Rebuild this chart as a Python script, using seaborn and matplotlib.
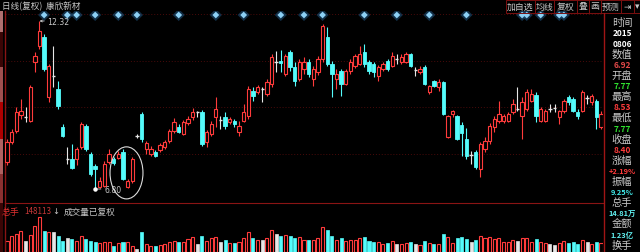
import numpy as np
import pandas as pd
import matplotlib
matplotlib.use("Agg")
import matplotlib.pyplot as plt
import seaborn as sns
from matplotlib.patches import Ellipse, Rectangle
from matplotlib.lines import Line2D

# ---------------- data ----------------
opens = [7.69, 8.34, 8.71, 9.23, 9.17, 9.03, 10.97, 11.50, 11.79, 9.82,
         10.51, 10.09, 8.84, 7.79, 7.79, 7.79, 8.18, 8.87, 7.95, 7.56,
         6.87, 6.90, 7.69, 7.79, 7.82, 8.02, 6.87, 7.06, 8.54, 9.26,
         8.11, 7.95, 8.02, 8.08, 8.18, 8.38, 8.71, 8.84, 8.61, 8.97,
         9.17, 9.33, 9.33, 8.34, 8.61, 9.17, 9.07, 9.17, 9.00, 9.03,
         8.67, 9.03, 9.20, 10.02, 9.99, 10.09, 9.92, 10.25, 10.97, 11.01,
         10.58, 11.30, 10.81, 10.41, 10.74, 10.97, 10.41, 10.64, 11.07, 11.79,
         10.91, 10.41, 10.68, 10.25, 10.68, 10.84, 10.91, 11.30, 10.97, 10.91,
         10.51, 10.74, 11.01, 10.84, 11.07, 10.97, 10.97, 11.24, 10.71, 10.64,
         10.81, 9.99, 10.35, 10.15, 10.32, 8.51, 9.26, 9.20, 8.90, 8.44,
         7.92, 8.02, 7.46, 8.11, 8.38, 8.84, 9.03, 9.03, 9.03, 9.33,
         9.43, 9.20, 9.43, 9.69, 9.89, 9.03, 9.03, 9.43, 9.46, 9.17,
         9.36, 9.82, 9.76, 9.33, 9.36, 9.79, 9.66, 9.69, 8.84]
highs = [8.44, 8.77, 9.49, 9.76, 9.49, 10.22, 11.30, 12.32, 11.89, 10.91,
         11.50, 10.35, 8.94, 8.18, 8.28, 8.18, 9.00, 8.94, 8.02, 7.62,
         7.19, 7.72, 8.11, 7.85, 8.05, 8.11, 7.13, 7.85, 8.61, 9.33,
         8.38, 8.21, 8.08, 8.31, 8.41, 8.77, 9.13, 8.94, 9.07, 9.20,
         9.46, 9.36, 9.40, 8.74, 9.03, 9.82, 9.20, 9.33, 9.17, 9.10,
         9.03, 9.59, 10.18, 10.15, 10.22, 10.15, 10.41, 11.24, 11.33, 11.37,
         11.24, 11.37, 10.97, 11.07, 11.14, 11.07, 10.84, 11.17, 12.22, 12.12,
         11.01, 10.74, 10.74, 10.74, 11.07, 11.24, 11.50, 11.56, 11.04, 10.97,
         10.87, 10.97, 11.07, 11.30, 11.24, 11.24, 11.30, 11.27, 10.81, 10.84,
         10.87, 10.22, 10.38, 10.41, 10.35, 9.23, 9.40, 9.23, 9.00, 8.80,
         8.05, 8.08, 8.34, 8.51, 8.97, 9.20, 9.69, 9.26, 9.33, 9.76,
         10.15, 9.82, 10.09, 10.09, 9.99, 9.49, 9.43, 9.59, 9.59, 9.40,
         9.76, 9.89, 9.82, 9.43, 10.05, 9.89, 9.92, 9.76, 9.36]
lows = [7.59, 8.28, 8.64, 9.10, 9.00, 9.00, 10.64, 11.40, 10.68, 9.66,
        10.15, 9.43, 8.51, 7.62, 7.46, 7.59, 8.11, 8.05, 7.23, 6.80,
        6.83, 6.87, 7.62, 7.59, 7.79, 7.10, 6.83, 7.00, 8.48, 8.34,
        7.95, 7.88, 7.85, 8.02, 8.11, 8.31, 8.64, 8.64, 8.57, 8.90,
        9.07, 9.17, 8.21, 8.18, 8.54, 8.84, 8.77, 8.77, 8.94, 8.84,
        8.54, 9.00, 9.10, 9.69, 9.92, 9.66, 9.86, 10.15, 10.64, 10.64,
        10.51, 10.68, 10.18, 10.35, 10.58, 10.48, 10.18, 10.55, 10.97, 10.84,
        9.82, 10.09, 9.86, 10.22, 10.58, 10.78, 10.87, 10.81, 10.58, 10.48,
        10.35, 10.68, 10.68, 10.81, 10.91, 10.91, 10.94, 10.81, 10.51, 10.58,
        10.22, 9.92, 10.15, 10.02, 9.23, 8.48, 9.17, 8.41, 7.88, 7.79,
        7.62, 7.46, 7.19, 8.02, 8.28, 8.67, 8.97, 8.97, 9.00, 9.26,
        9.36, 8.44, 9.36, 9.66, 9.00, 9.00, 9.00, 9.33, 9.33, 8.94,
        9.30, 9.56, 9.33, 9.10, 9.33, 9.59, 9.56, 8.77, 8.77]
closes = [8.34, 8.67, 9.33, 9.36, 9.17, 10.15, 11.17, 11.99, 10.74, 10.84,
          10.51, 9.53, 8.54, 7.79, 7.49, 8.11, 8.94, 8.11, 7.29, 7.46,
          7.06, 7.62, 7.95, 7.65, 7.95, 7.13, 7.06, 7.79, 8.54, 8.44,
          8.31, 8.11, 7.88, 8.25, 8.34, 8.71, 9.00, 8.67, 9.00, 9.10,
          9.33, 9.33, 8.28, 8.67, 8.94, 9.43, 9.07, 8.87, 9.10, 8.94,
          8.87, 9.33, 10.09, 9.86, 10.15, 10.09, 10.32, 11.14, 10.97, 10.94,
          11.17, 10.81, 10.35, 10.97, 10.97, 10.58, 10.74, 11.07, 12.16, 10.91,
          10.58, 10.58, 10.25, 10.68, 10.97, 11.17, 11.24, 10.91, 10.68, 10.64,
          10.81, 10.91, 10.74, 11.17, 11.07, 11.14, 11.24, 10.84, 10.71, 10.74,
          10.25, 10.18, 10.18, 10.32, 9.26, 9.20, 9.36, 8.44, 8.64, 7.88,
          7.92, 7.52, 8.28, 8.38, 8.87, 9.10, 9.26, 9.20, 9.26, 9.59,
          9.43, 9.66, 9.99, 9.92, 9.20, 9.43, 9.36, 9.43, 9.46, 9.36,
          9.69, 9.66, 9.36, 9.20, 9.99, 9.79, 9.86, 9.17, 9.26]
volumes = [46500, 67700, 76100, 88800, 46500, 71900, 110000, 148113, 88800, 84600,
           84600, 67700, 46500, 59200, 55000, 46500, 67700, 55000, 46500, 42300,
           38100, 42300, 42300, 25400, 38100, 42300, 42300, 25400, 12700, 84600,
           33800, 25400, 25400, 29600, 33800, 42300, 46500, 42300, 42300, 55000,
           63500, 33800, 67700, 46500, 59200, 63500, 42300, 50800, 38100, 38100,
           42300, 59200, 84600, 59200, 50800, 50800, 59200, 93100, 76100, 67700,
           71900, 67700, 59200, 63500, 50800, 50800, 50800, 59200, 105800, 93100,
           67700, 50800, 59200, 46500, 50800, 50800, 59200, 63500, 46500, 42300,
           42300, 33800, 38100, 46500, 33800, 33800, 38100, 42300, 33800, 29600,
           46500, 38100, 33800, 33800, 76100, 63500, 38100, 59200, 63500, 55000,
           42300, 50800, 67700, 59200, 63500, 55000, 59200, 42300, 42300, 50800,
           46500, 59200, 59200, 42300, 55000, 42300, 38100, 33800, 29600, 38100,
           46500, 38100, 42300, 33800, 50800, 42300, 33800, 42300, 38100]
event_idx = [8, 13, 15, 19, 24, 28, 37, 45, 51, 59, 64, 68, 77, 84, 91, 99,
             111, 112, 115, 119, 120]
title_text = "日线(复权)  康欣新材"
buttons = ["加自选", "均线", "复权", "叠", "画", "预测", "⇥", "▾"]
panel_fields = ["时间", "数值", "开盘", "最高", "最低", "收盘", "涨幅", "振幅", "总手", "金额", "换手"]
panel_values = [["2015", "0806"], ["6.92"], ["7.77"], ["8.53"], ["7.77"], ["8.40"],
                ["+2.19%"], ["9.25%"], ["14.81万"], ["1.23亿"], []]
vol_label = ["总手", "148113", "↓", "成交量已复权"]

# ---------------- style ----------------
RED = "#ff3b3b"
CYAN = "#54fcfc"
WHITE = "#e6e6e6"
GREEN = "#2ee02e"
GRAY = "#c8c8c8"
DARKRED = "#8a1414"

sns.set_theme(style="dark", rc={"axes.facecolor": "black", "figure.facecolor": "black",
                                 "savefig.facecolor": "black"})
plt.rcParams["font.family"] = ["Noto Sans CJK SC", "DejaVu Sans"]

W, H = 640, 253
fig = plt.figure(figsize=(W / 100, H / 100), dpi=100)


def box(x0, y0, x1, y1):
    return [x0 / W, 1 - y1 / H, (x1 - x0) / W, (y1 - y0) / H]


def fx(x):
    return x / W


def fy(y):
    return 1 - y / H


ax = fig.add_axes(box(5, 12, 603, 203))
vax = fig.add_axes(box(5, 204, 603, 253))

n = len(opens)
df = pd.DataFrame(dict(idx=np.arange(n), open=opens, high=highs, low=lows,
                       close=closes, vol=volumes))
df["dir"] = np.sign(np.round(df["close"] - df["open"], 4)).astype(int)
df["color"] = df["dir"].map({1: RED, -1: CYAN, 0: WHITE})

# wicks
ax.vlines(df["idx"], df["low"], df["high"], colors=df["color"], lw=0.8, zorder=2)
# bodies
bw = 0.72
up = df[df["dir"] == 1]
dn = df[df["dir"] == -1]
dj = df[df["dir"] == 0]
ax.bar(up["idx"], up["close"] - up["open"], bottom=up["open"], width=bw,
       facecolor="black", edgecolor=RED, lw=0.8, zorder=3)
ax.bar(dn["idx"], dn["open"] - dn["close"], bottom=dn["close"], width=bw,
       facecolor=CYAN, edgecolor=CYAN, lw=0.6, zorder=3)
ax.hlines(dj["close"], dj["idx"] - bw / 2, dj["idx"] + bw / 2, colors=WHITE, lw=1.0, zorder=3)

ax.set_xlim(-0.43, n - 1 + 0.43)
ylo, yhi = 6.373, 12.649
ax.set_ylim(ylo, yhi)
ax.set_xticks([])
ax.set_yticks([7.95, 9.48, 11.01, 12.55])
ax.tick_params(left=False, labelleft=False, bottom=False, labelbottom=False)
ax.grid(True, axis="y", color="#4a0a0a", ls=(0, (1, 2)), lw=0.7)
ax.grid(False, axis="x")
for s in ["top", "right", "bottom"]:
    ax.spines[s].set_visible(False)
ax.spines["left"].set_color(DARKRED)
ax.spines["left"].set_linewidth(1.0)

# event diamonds near top
ymark = yhi - 4 * (yhi - ylo) / 191
ev = pd.DataFrame(dict(idx=event_idx, y=[ymark] * len(event_idx)))
sns.scatterplot(data=ev, x="idx", y="y", ax=ax, marker="D", s=38, color="#1d4f78",
                edgecolor="none", alpha=0.6, legend=False, zorder=4)
sns.scatterplot(data=ev, x="idx", y="y", ax=ax, marker="D", s=12, color="#8cd0f5",
                edgecolor="none", legend=False, zorder=5)
ax.set_xlabel("")
ax.set_ylabel("")

# max / min annotations
imax = int(np.argmax(highs))
imin = int(np.argmin(lows))
ax.annotate(f"{highs[imax]:.2f}", xy=(imax, highs[imax]), xytext=(8, 0),
            textcoords="offset pixels", color=GRAY, fontsize=5.6, va="center", ha="left",
            family="DejaVu Sans",
            arrowprops=dict(arrowstyle="->,head_length=0.25,head_width=0.12", color=GRAY,
                            lw=0.6, shrinkA=0, shrinkB=0), zorder=6)
ax.annotate(f"{lows[imin]:.2f}", xy=(imin, lows[imin]), xytext=(9, 0),
            textcoords="offset pixels", color=GRAY, fontsize=5.6, va="center", ha="left",
            family="DejaVu Sans",
            arrowprops=dict(arrowstyle="-", color=GRAY, lw=0.6, shrinkA=0, shrinkB=0),
            zorder=6)
ax.plot([imin], [lows[imin]], "o", ms=2.2, color="white", zorder=6)

# ellipse highlight
ax.add_patch(Ellipse((25.75, 7.33), 7.1, 1.71, fill=False, edgecolor="#dcdcdc",
                     lw=0.8, clip_on=False, zorder=6))

# ---------------- volume ----------------
vup = df[df["dir"] == 1]
vdn = df[df["dir"] == -1]
vdj = df[df["dir"] == 0]
vw = 0.66
vax.bar(vup["idx"], vup["vol"], width=vw, facecolor="black", edgecolor=RED, lw=0.8)
vax.bar(vdn["idx"], vdn["vol"], width=vw, facecolor=CYAN, edgecolor=CYAN, lw=0.5)
vax.bar(vdj["idx"], vdj["vol"], width=vw, facecolor=WHITE, edgecolor=WHITE, lw=0.5)
vax.set_xlim(-0.43, n - 1 + 0.43)
vax.set_ylim(0, 207000)
vax.set_xticks([])
vax.set_yticks([])
vax.grid(False)
for s in ["right", "bottom"]:
    vax.spines[s].set_visible(False)
vax.spines["top"].set_color(DARKRED)
vax.spines["top"].set_linewidth(0.8)
vax.spines["left"].set_color(DARKRED)
vax.spines["left"].set_linewidth(1.0)

# volume header
fig.text(fx(2), fy(212), vol_label[0], color="#e03030", fontsize=6.4, va="center", ha="left")
fig.text(fx(24), fy(212), vol_label[1], color="#c83838", fontsize=5.8, va="center", ha="left")
fig.text(fx(52), fy(212), vol_label[2], color=GRAY, fontsize=6, va="center", ha="left",
         family=["DejaVu Sans"])
fig.text(fx(64), fy(212), vol_label[3], color=GRAY, fontsize=6.2, va="center", ha="left")

# ---------------- top bar ----------------
fig.text(fx(2), fy(6.5), title_text, color=GRAY, fontsize=6.2, va="center", ha="left")
btn_edges = [506, 535, 554, 577, 589, 601, 621, 634, 640]
for i, lab in enumerate(buttons):
    x0, x1 = btn_edges[i], btn_edges[i + 1]
    fig.patches.append(Rectangle((fx(x0), fy(14)), (x1 - x0) / W, 13 / H,
                                 transform=fig.transFigure, fill=False,
                                 edgecolor="#7a1010", lw=0.7))
    fig.text(fx((x0 + x1) / 2), fy(7), lab, color=GRAY, fontsize=6.4, va="center",
             ha="center", family=["Noto Sans CJK SC", "DejaVu Sans"])

# left scale strip
strip = [(12, 33, "#b07070"), (33, 68, "#3a0505"), (68, 103, "#a05050"),
         (103, 140, "#b00000"), (140, 175, "#b06060"), (175, 204, "#8a3030"),
         (204, 253, "#3a0505")]
for y0, y1, c in strip:
    fig.patches.append(Rectangle((0, fy(y1)), 3 / W, (y1 - y0) / H,
                                 transform=fig.transFigure, color=c, lw=0))

# right separator
fig.lines.append(Line2D([fx(603.5), fx(603.5)], [fy(14), fy(253)], transform=fig.transFigure,
                        color="#a01515", lw=1.0))

# ---------------- right info panel ----------------
value_colors = [["white", "white"], ["#e04848"], [GREEN], [RED], [GREEN], [RED],
                [RED], ["#40e8e8"], ["#60f0f0"], ["#60f0f0"], []]
row = 0
for field, vals, cols in zip(panel_fields, panel_values, value_colors):
    fig.text(fx(622), fy(23 + 10.6 * row), field, color=GRAY, fontsize=7.4,
             va="center", ha="center")
    row += 1
    for v, c in zip(vals, cols):
        fs = 6.0 if len(v) <= 4 else 5.4
        fig.text(fx(622.5), fy(23 + 10.6 * row), v, color=c, fontsize=fs,
                 fontweight="bold", va="center", ha="center")
        row += 1

fig.savefig("out.png", dpi=100, facecolor="black")
